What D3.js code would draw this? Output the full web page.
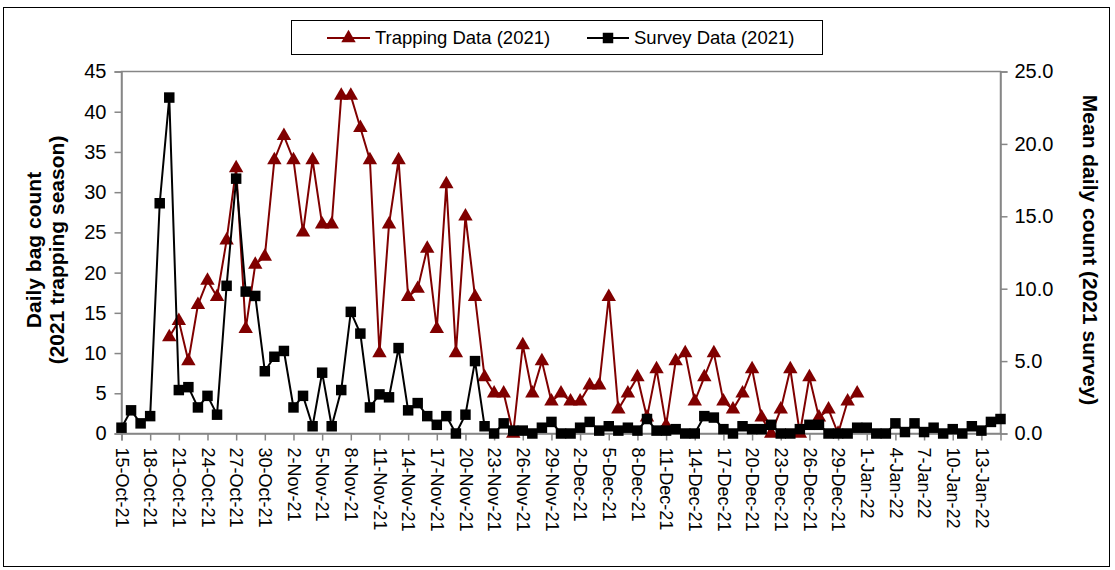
<!DOCTYPE html>
<html><head><meta charset="utf-8">
<script src="https://cdn.jsdelivr.net/npm/d3@7"></script>
<style>body{margin:0;background:#fff;} svg{display:block;font-family:"Liberation Sans",Arial,sans-serif;}</style>
</head><body>
<svg id="c" width="1115" height="570"></svg>
<script>
// ---- data ----
const axisStart = "2021-10-15";
const axisEnd = "2022-01-15";
const tickLabels = ["15-Oct-21","18-Oct-21","21-Oct-21","24-Oct-21","27-Oct-21","30-Oct-21","2-Nov-21","5-Nov-21","8-Nov-21","11-Nov-21","14-Nov-21","17-Nov-21","20-Nov-21","23-Nov-21","26-Nov-21","29-Nov-21","2-Dec-21","5-Dec-21","8-Dec-21","11-Dec-21","14-Dec-21","17-Dec-21","20-Dec-21","23-Dec-21","26-Dec-21","29-Dec-21","1-Jan-22","4-Jan-22","7-Jan-22","10-Jan-22","13-Jan-22"];
const trapStart = "2021-10-20"; // daily values from this date
const trappingValues = [12,14,9,16,19,17,24,33,13,21,22,34,37,34,25,34,26,26,42,42,38,34,10,26,34,17,18,23,13,31,10,27,17,7,5,5,0,11,5,9,4,5,4,4,6,6,17,3,5,7,2,8,1,9,10,4,7,10,4,3,5,8,2,0,3,8,0,7,2,3,0,4,5];
const surveyStart = "2021-10-15";
const surveyValues = [0.4,1.6,0.7,1.2,15.9,23.2,3.0,3.2,1.8,2.6,1.3,10.2,17.6,9.8,9.5,4.3,5.3,5.7,1.8,2.6,0.5,4.2,0.5,3.0,8.4,6.9,1.8,2.7,2.5,5.9,1.6,2.1,1.2,0.6,1.2,0.0,1.3,5.0,0.5,0.0,0.7,0.2,0.2,0.0,0.4,0.8,0.0,0.0,0.4,0.8,0.2,0.5,0.2,0.4,0.2,1.0,0.2,0.2,0.3,0.0,0.0,1.2,1.1,0.3,0.0,0.5,0.3,0.3,0.6,0.0,0.0,0.3,0.6,0.6,0.0,0.0,0.0,0.4,0.4,0.0,0.0,0.7,0.1,0.7,0.1,0.4,0.0,0.3,0.0,0.5,0.2,0.8,1.0];
const leftTicks = [0,5,10,15,20,25,30,35,40,45];
const rightTicks = [0,5,10,15,20,25];
const seriesNames = ["Trapping Data (2021)","Survey Data (2021)"];

// ---- setup ----
const parse = d3.utcParse("%Y-%m-%d");
const parseTick = d3.utcParse("%d-%b-%y");
const svg = d3.select("#c");
const m = {l:121.5, r:1000.5, t:71.5, b:433.5};
const red = "#800000";

const x = d3.scaleUtc().domain([parse(axisStart), parse(axisEnd)]).range([m.l, m.r]);
const yL = d3.scaleLinear().domain([0,45]).range([m.b, m.t]);
const yR = d3.scaleLinear().domain([0,25]).range([m.b, m.t]);

const trapData = trappingValues.map((v,i)=>({d:d3.utcDay.offset(parse(trapStart), i), v}));
const survData = surveyValues.map((v,i)=>({d:d3.utcDay.offset(parse(surveyStart), i), v}));

// outer frame
svg.append("rect").attr("x",3.5).attr("y",7.5).attr("width",1106).attr("height",559)
  .attr("fill","none").attr("stroke","#000").attr("stroke-width",1);

// plot frame
svg.append("rect").attr("x",m.l).attr("y",m.t).attr("width",m.r-m.l).attr("height",m.b-m.t)
  .attr("fill","none").attr("stroke","#868686").attr("stroke-width",1.5);

// axes
const tickDates = tickLabels.map(s=>parseTick(s));
const xAxis = d3.axisBottom(x).tickValues(tickDates).tickSize(7).tickFormat((d,i)=>tickLabels[i]);
const gx = svg.append("g").attr("transform",`translate(0,${m.b})`).call(xAxis);
gx.select(".domain").attr("stroke","#868686").attr("stroke-width",1.5);
gx.selectAll(".tick line").attr("stroke","#868686").attr("stroke-width",1.5);
gx.selectAll(".tick text").attr("font-size",18).attr("fill","#000")
  .attr("transform","rotate(90)").attr("text-anchor","start")
  .attr("x",14).attr("y",0).attr("dy","0.35em");

const gl = svg.append("g").attr("transform",`translate(${m.l},0)`)
  .call(d3.axisLeft(yL).tickValues(leftTicks).tickSize(7).tickPadding(8));
gl.select(".domain").attr("stroke","#868686").attr("stroke-width",1.5);
gl.selectAll(".tick line").attr("stroke","#868686").attr("stroke-width",1.5);
gl.selectAll(".tick text").attr("font-size",20).attr("fill","#000");

const gr = svg.append("g").attr("transform",`translate(${m.r},0)`)
  .call(d3.axisRight(yR).tickValues(rightTicks).tickSize(7).tickPadding(7).tickFormat(d3.format(".1f")));
gr.select(".domain").attr("stroke","#868686").attr("stroke-width",1.5);
gr.selectAll(".tick line").attr("stroke","#868686").attr("stroke-width",1.5);
gr.selectAll(".tick text").attr("font-size",20).attr("fill","#000");

// axis titles
const lt = svg.append("text").attr("transform","translate(41,250) rotate(-90)")
  .attr("text-anchor","middle").attr("font-size",21).attr("font-weight","bold");
lt.append("tspan").attr("x",0).attr("dy",0).text("Daily bag count");
lt.append("tspan").attr("x",0).attr("dy",23).text("(2021 trapping season)");
svg.append("text").attr("transform","translate(1083,250) rotate(90)")
  .attr("text-anchor","middle").attr("font-size",21).attr("font-weight","bold")
  .text("Mean daily count (2021 survey)");

// series
const triSym = d3.symbol().type(d3.symbolTriangle).size(90);
const sqSym = d3.symbol().type(d3.symbolSquare).size(110);

svg.append("path").datum(trapData).attr("fill","none").attr("stroke",red).attr("stroke-width",2)
  .attr("d", d3.line().x(d=>x(d.d)).y(d=>yL(d.v)));
svg.append("g").selectAll("path").data(trapData).join("path")
  .attr("transform",d=>`translate(${x(d.d)},${yL(d.v)})`).attr("d",triSym).attr("fill",red);

svg.append("path").datum(survData).attr("fill","none").attr("stroke","#000").attr("stroke-width",2)
  .attr("d", d3.line().x(d=>x(d.d)).y(d=>yR(d.v)));
svg.append("g").selectAll("path").data(survData).join("path")
  .attr("transform",d=>`translate(${x(d.d)},${yR(d.v)})`).attr("d",sqSym).attr("fill","#000");

// legend
const lg = svg.append("g");
lg.append("rect").attr("x",291.5).attr("y",20.5).attr("width",531).attr("height",34)
  .attr("fill","#fff").attr("stroke","#000").attr("stroke-width",1);
lg.append("line").attr("x1",327).attr("x2",370).attr("y1",38).attr("y2",38).attr("stroke",red).attr("stroke-width",2);
lg.append("path").attr("transform","translate(348.5,38)").attr("d",triSym).attr("fill",red);
lg.append("text").attr("x",375).attr("y",38).attr("dy","0.35em").attr("font-size",18.5).text(seriesNames[0]);
lg.append("line").attr("x1",587).attr("x2",629).attr("y1",38).attr("y2",38).attr("stroke","#000").attr("stroke-width",2);
lg.append("path").attr("transform","translate(608,38)").attr("d",sqSym).attr("fill","#000");
lg.append("text").attr("x",634).attr("y",38).attr("dy","0.35em").attr("font-size",18.5).text(seriesNames[1]);
</script>
</body></html>
